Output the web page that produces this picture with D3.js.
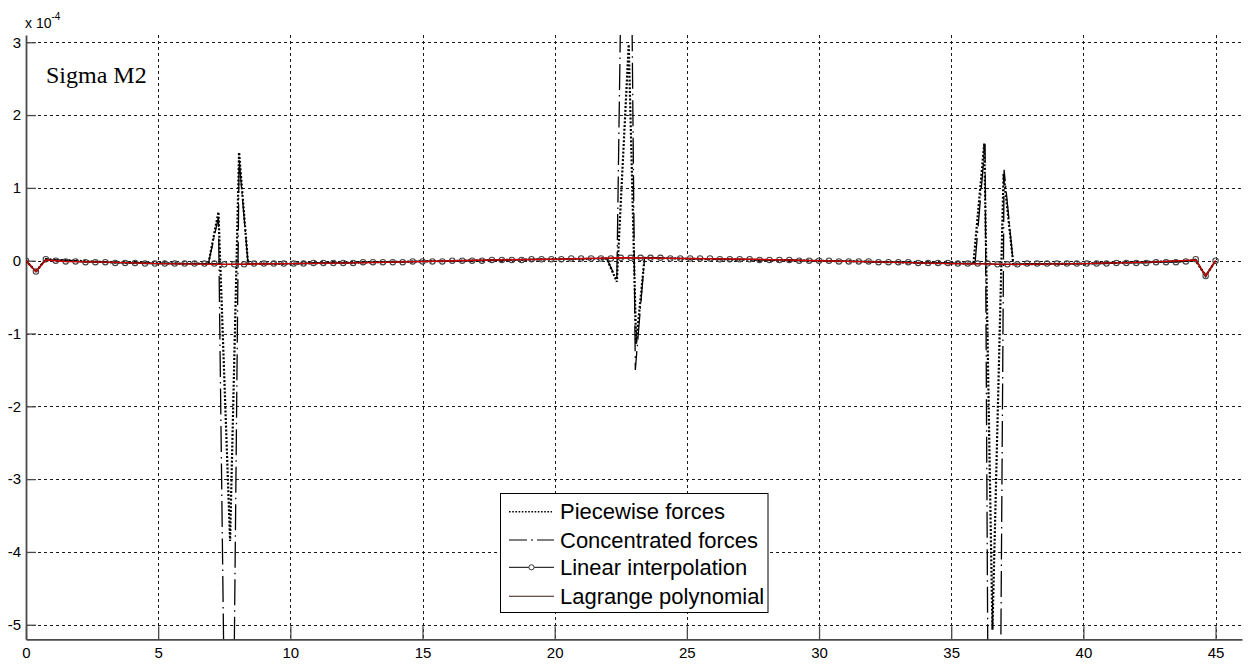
<!DOCTYPE html>
<html>
<head>
<meta charset="utf-8">
<script src="https://cdn.jsdelivr.net/npm/d3@7"></script>
<style>
  html, body { margin: 0; padding: 0; background: #fff; }
  svg { display: block; }
  text { font-family: "Liberation Sans", Arial, sans-serif; }
</style>
</head>
<body>
<svg id="chart" width="1253" height="666"></svg>
<script>
// ---------------- DATA (values in units of 1e-4) ----------------
const xTicks = [0, 5, 10, 15, 20, 25, 30, 35, 40, 45];
const yTicks = [-5, -4, -3, -2, -1, 0, 1, 2, 3];
const chartTitle = "Sigma M2";
const seriesNames = ["Piecewise forces", "Concentrated forces", "Linear interpolation", "Lagrange polynomial"];

const piecewiseX = [0, 0.375, 0.75, 3, 6, 6.9, 7.28, 7.72, 8.06, 8.4, 10, 15, 18, 21.97, 22.35, 22.8, 23.08, 23.4, 26, 30, 34, 35.84, 36.25, 36.56, 36.98, 37.35, 40, 44.25, 44.625, 45];
const piecewiseY = [0, -0.15, 0.02, -0.02, -0.04, -0.04, 0.67, -3.85, 1.49, -0.04, -0.04, -0.01, 0.01, 0.03, -0.29, 2.97, -1.14, 0.04, 0.02, 0, -0.03, -0.04, 1.61, -5.07, 1.19, -0.05, -0.04, 0, -0.21, 0];

const concentratedX = [0, 0.375, 0.75, 3, 6, 6.9, 7.28, 7.7, 8.06, 8.4, 10, 15, 18, 21.97, 22.35, 22.75, 23.05, 23.4, 26, 30, 34, 35.9, 36.28, 36.6, 37.0, 37.35, 40, 44.25, 44.625, 45];
const concentratedY = [0, -0.15, 0.02, -0.02, -0.04, -0.04, 0.6, -12, 1.4, -0.04, -0.04, -0.01, 0.01, 0.03, -0.27, 10, -1.5, 0.04, 0.02, 0, -0.03, -0.04, 1.6, -20, 1.25, -0.05, -0.04, 0, -0.21, 0];

const linearStep = 0.375; // mesh spacing of the interpolation nodes
const linearY = [
  0, -0.15, 0.02, 0, -0.01, -0.01, -0.02, -0.02, -0.02, -0.03,
  -0.03, -0.03, -0.04, -0.04, -0.04, -0.04, -0.04, -0.04, -0.04, -0.04,
  -0.05, -0.05, -0.05, -0.04, -0.04, -0.04, -0.04, -0.04, -0.04, -0.03,
  -0.03, -0.03, -0.03, -0.03, -0.02, -0.02, -0.02, -0.02, -0.02, -0.01,
  -0.01, -0.01, -0.01, 0, 0, 0, 0, 0.01, 0.01, 0.01,
  0.01, 0.02, 0.02, 0.02, 0.02, 0.03, 0.03, 0.03, 0.03, 0.03,
  0.04, 0.04, 0.04, 0.04, 0.04, 0.03, 0.03, 0.03, 0.03, 0.03,
  0.02, 0.02, 0.02, 0.02, 0.01, 0.01, 0.01, 0.01, 0, 0,
  0, 0, -0.01, -0.01, -0.01, -0.01, -0.02, -0.02, -0.02, -0.02,
  -0.03, -0.03, -0.03, -0.03, -0.04, -0.04, -0.04, -0.04, -0.05, -0.05,
  -0.05, -0.04, -0.04, -0.04, -0.04, -0.04, -0.04, -0.04, -0.04, -0.04,
  -0.03, -0.03, -0.03, -0.03, -0.02, -0.02, -0.02, -0.01, 0.02, -0.21,
  0
];

const lagrangeX = [0, 0.375, 0.75, 1.5, 3, 5, 7.5, 10, 12.5, 15, 17.5, 20, 22.5, 25, 27.5, 30, 32.5, 35, 37.5, 40, 42.5, 44.25, 44.625, 45];
const lagrangeY = [0, -0.15, 0.01, -0.01, -0.02, -0.04, -0.05, -0.04, -0.03, -0.01, 0.01, 0.02, 0.04, 0.03, 0.02, 0, -0.02, -0.04, -0.05, -0.04, -0.02, 0.01, -0.21, 0];

// ---------------- LAYOUT ----------------
const svg = d3.select("#chart");
const plotLeft = 26, plotRight = 1242, plotTop = 35, plotBottom = 639.3;
const x = d3.scaleLinear().domain([0, 46]).range([plotLeft, plotRight]);
const y = d3.scaleLinear().domain([-5.2, 3.1]).range([plotBottom, plotTop]);
const fmt = d => String(d); // plain hyphen-minus, as in the original

svg.append("rect").attr("width", 1253).attr("height", 666).attr("fill", "#fff");

svg.append("defs").append("clipPath").attr("id", "plotclip")
  .append("rect").attr("x", plotLeft).attr("y", plotTop)
  .attr("width", plotRight - plotLeft).attr("height", plotBottom - plotTop);

// grid
const grid = svg.append("g").attr("stroke", "#1a1a1a").attr("stroke-width", 1).attr("stroke-dasharray", "3,3");
grid.selectAll("line.gx").data(xTicks.filter(d => d > 0)).join("line")
  .attr("x1", d => Math.round(x(d)) + 0.5).attr("x2", d => Math.round(x(d)) + 0.5)
  .attr("y1", plotTop).attr("y2", plotBottom);
grid.selectAll("line.gy").data(yTicks).join("line")
  .attr("x1", plotLeft).attr("x2", plotRight)
  .attr("y1", d => Math.round(y(d)) + 0.5).attr("y2", d => Math.round(y(d)) + 0.5);

// axes
const axisColor = "#4a4a4a";
const xAxis = svg.append("g").attr("transform", `translate(0,${plotBottom})`)
  .call(d3.axisBottom(x).tickValues(xTicks).tickFormat(fmt).tickSize(-13).tickSizeOuter(0).tickPadding(8));
const yAxis = svg.append("g").attr("transform", `translate(${plotLeft},0)`)
  .call(d3.axisLeft(y).tickValues(yTicks).tickFormat(fmt).tickSize(-10).tickSizeOuter(0).tickPadding(5));
[xAxis, yAxis].forEach(a => {
  a.select(".domain").attr("stroke", axisColor).attr("stroke-width", 1.8);
  a.selectAll(".tick line").attr("stroke", axisColor).attr("stroke-width", 1.3);
  a.selectAll(".tick text").attr("fill", "#000").style("font-size", "15px")
    .style("font-family", "'Liberation Sans', Arial, sans-serif");
});

// exponent label
const expo = svg.append("text").attr("x", 25).attr("y", 28).attr("fill", "#000")
  .style("font-size", "14px");
expo.append("tspan").text("x 10");
expo.append("tspan").attr("dy", -8).style("font-size", "10px").text("-4");

// series
const plot = svg.append("g").attr("clip-path", "url(#plotclip)");
const line = d3.line().x(d => x(d[0])).y(d => y(d[1]));

const piecewise = d3.zip(piecewiseX, piecewiseY);
const concentrated = d3.zip(concentratedX, concentratedY);
const linear = linearY.map((v, i) => [i * linearStep, v]);
const lagrange = d3.zip(lagrangeX, lagrangeY);

plot.append("path").datum(piecewise).attr("d", line).attr("fill", "none")
  .attr("stroke", "#000").attr("stroke-width", 2.2).attr("stroke-dasharray", "2,1.8");
plot.append("path").datum(concentrated).attr("d", line).attr("fill", "none")
  .attr("stroke", "#000").attr("stroke-width", 1.3).attr("stroke-dasharray", "26,5,1.5,5");
plot.append("path").datum(linear).attr("d", line).attr("fill", "none")
  .attr("stroke", "#000").attr("stroke-width", 1.2);
plot.selectAll("circle.m").data(linear).join("circle")
  .attr("cx", d => x(d[0])).attr("cy", d => y(d[1])).attr("r", 2.7)
  .attr("fill", "none").attr("stroke", "#444").attr("stroke-width", 1.1);
plot.append("path").datum(lagrange).attr("d", line).attr("fill", "none")
  .attr("stroke", "#cc0000").attr("stroke-width", 1.4);

// title
svg.append("text").attr("x", 46).attr("y", 83).attr("fill", "#000")
  .style("font-family", "'Liberation Serif', 'Times New Roman', serif")
  .style("font-size", "24px").text(chartTitle);

// legend
const lg = svg.append("g");
lg.append("rect").attr("x", 500.5).attr("y", 493.5).attr("width", 267.5).attr("height", 119)
  .attr("fill", "#fff").attr("stroke", "#000").attr("stroke-width", 1);
const rowY = [511.7, 540, 567.3, 596.2];
const sx1 = 509, sx2 = 554;
lg.append("line").attr("x1", sx1).attr("x2", sx1 + 43).attr("y1", rowY[0]).attr("y2", rowY[0])
  .attr("stroke", "#000").attr("stroke-width", 1.6).attr("stroke-dasharray", "1.6,1.6");
lg.append("line").attr("x1", sx1).attr("x2", sx2).attr("y1", rowY[1]).attr("y2", rowY[1])
  .attr("stroke", "#000").attr("stroke-width", 1.1).attr("stroke-dasharray", "18,4,2,4,20");
lg.append("line").attr("x1", sx1).attr("x2", sx2).attr("y1", rowY[2]).attr("y2", rowY[2])
  .attr("stroke", "#000").attr("stroke-width", 1);
lg.append("circle").attr("cx", (sx1 + sx2) / 2).attr("cy", rowY[2]).attr("r", 2.6)
  .attr("fill", "#fff").attr("stroke", "#333").attr("stroke-width", 1);
lg.append("line").attr("x1", sx1).attr("x2", sx2).attr("y1", rowY[3]).attr("y2", rowY[3])
  .attr("stroke", "#3a1a1a").attr("stroke-width", 1.1);
lg.selectAll("text.lt").data(seriesNames).join("text")
  .attr("x", 560).attr("y", (d, i) => rowY[i] + 7.6)
  .attr("fill", "#000").style("font-size", "22px").text(d => d);
</script>
</body>
</html>
